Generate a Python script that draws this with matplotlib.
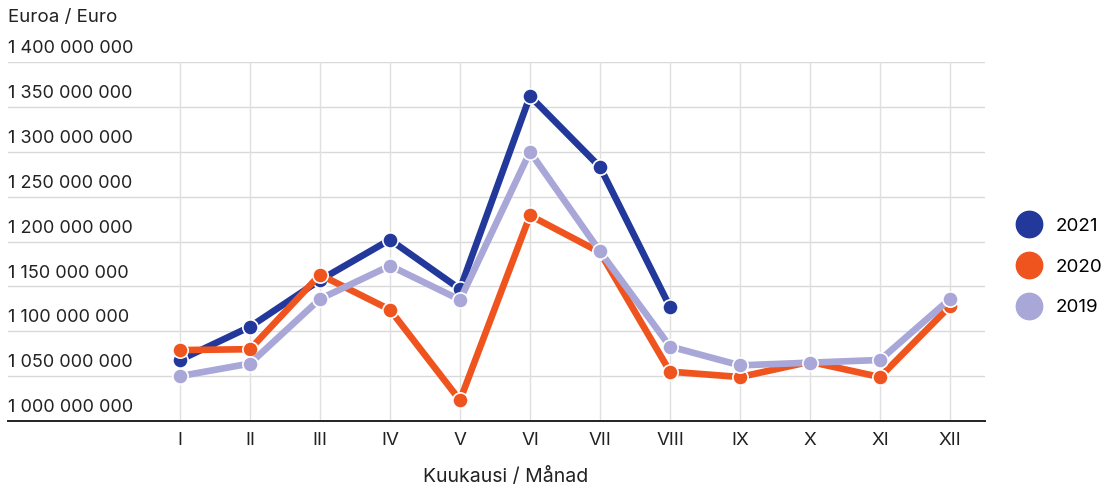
import numpy as np
import matplotlib.pyplot as plt
from matplotlib.lines import Line2D

plt.rcParams['font.family'] = ['Inter', 'DejaVu Sans']

# Months (roman numerals) and values in millions of euro
months = ['I', 'II', 'III', 'IV', 'V', 'VI', 'VII', 'VIII', 'IX', 'X', 'XI', 'XII']
y2021 = [1068, 1105, 1157, 1202, 1147, 1362, 1283, 1127]
y2020 = [1079, 1080, 1163, 1124, 1023, 1229, 1188, 1055, 1049, 1066, 1049, 1128]
y2019 = [1050, 1064, 1136, 1173, 1135, 1300, 1189, 1083, 1062, 1065, 1068, 1136]
y_ticks = [1000, 1050, 1100, 1150, 1200, 1250, 1300, 1350, 1400]

series = [('2021', y2021, '#22389a', 3),
          ('2020', y2020, '#f0541e', 4),
          ('2019', y2019, '#a9a7d8', 5)]

fig = plt.figure(figsize=(11.01, 4.88), dpi=100)
W, H = 1101, 488
ax = fig.add_axes([8 / W, (H - 421) / H, (985 - 8) / W, (421 - 62) / H])

x = np.arange(len(months))
for name, vals, col, z in series:
    ax.plot(x[:len(vals)], vals, color=col, lw=4.8, marker='o', ms=11,
            mfc=col, mec='white', mew=1.2, zorder=z, solid_capstyle='round')

ax.set_xlim(-2.457, 11.5)
ax.set_ylim(1000, 1400)

# grid
for v in y_ticks[1:]:
    ax.axhline(v, color='#d9d9d9', lw=1, zorder=0)
for xi in x:
    ax.axvline(xi, color='#e0e0e0', lw=1, zorder=0)

for s in ['top', 'right', 'left']:
    ax.spines[s].set_visible(False)
ax.spines['bottom'].set_color('#222222')
ax.spines['bottom'].set_linewidth(1.4)

ax.set_yticks([])
ax.set_xticks(x)
ax.set_xticklabels(months, fontsize=13.5, color='#222222')
ax.tick_params(axis='x', length=0, pad=8)

# y labels sit above each gridline
for v in y_ticks:
    label = f'{v * 1000000:,}'.replace(',', ' ')
    ax.annotate(label, xy=(0, v), xycoords=('axes fraction', 'data'),
                xytext=(0, 3.5), textcoords='offset points',
                ha='left', va='bottom', fontsize=13, color='#222222')

fig.text(8 / W, 1 - 17 / H, 'Euroa / Euro', ha='left', va='center',
         fontsize=13.5, color='#222222')
fig.text(506 / W, 1 - 477 / H, 'Kuukausi / Månad', ha='center', va='center',
         fontsize=14, color='#222222')

# legend
handles = [Line2D([], [], ls='', marker='o', ms=19, mfc=c, mec=c, label=n)
           for n, _, c, _ in series]
fig.legend(handles=handles, loc='center left', bbox_to_anchor=(1017 / W, 1 - 267 / H),
           frameon=False, fontsize=13.5, handletextpad=0.75, labelspacing=1.25,
           handlelength=1.3, borderaxespad=0, borderpad=0)

fig.savefig('out.png', dpi=100)
